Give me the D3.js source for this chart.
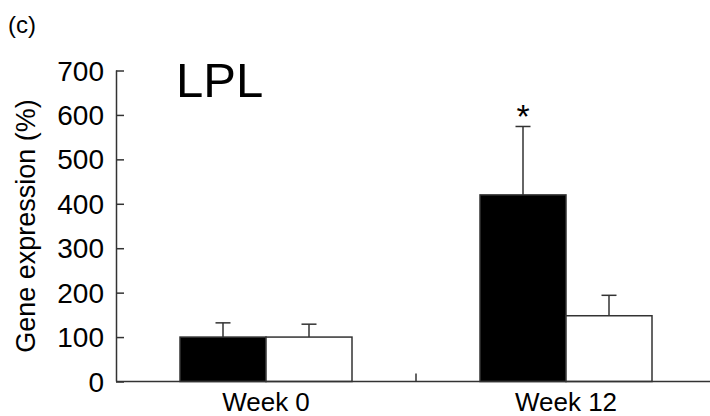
<!DOCTYPE html>
<html>
<head>
<meta charset="utf-8">
<script src="https://cdn.jsdelivr.net/npm/d3@7"></script>
<style>
  body { margin: 0; background: #fff; }
  text { font-family: "Liberation Sans", Arial, sans-serif; fill: #000; }
</style>
</head>
<body>
<svg id="chart" width="710" height="416"></svg>
<script>
// data
var weeks = ['Week 0', 'Week 12'];
var groups = ['treated', 'control'];
var means = [[100, 100], [420, 148]];
var upperErr = [[132, 129], [574, 194]];
var yTicks = [0, 100, 200, 300, 400, 500, 600, 700];
var sigMarks = [[false, false], [true, false]];

var svg = d3.select('#chart');
var ink = '#333';

var x = d3.scaleBand().domain(weeks).range([116, 716]).padding(0);
var xInner = d3.scaleBand().domain(groups).range([0, 172]);
var y = d3.scaleLinear().domain([0, 700]).range([381.5, 70.5]);

// y axis, ticks pointing inward
var yAxis = svg.append('g').attr('transform', 'translate(116,0)')
  .call(d3.axisRight(y).tickValues(yTicks).tickSize(8).tickFormat(''));
yAxis.select('.domain').attr('d', 'M0.5,' + y(700) + 'V' + y(0)).attr('stroke', ink).attr('stroke-width', 1.5);
yAxis.selectAll('.tick line').attr('stroke', ink).attr('stroke-width', 1.5);

svg.append('g').selectAll('text').data(yTicks).join('text')
  .attr('x', 104)
  .attr('y', function(d){ return y(d); })
  .attr('dy', '0.36em')
  .attr('text-anchor', 'end')
  .style('font-size', '28px')
  .text(function(d){ return d; });

// bars
weeks.forEach(function(w, i){
  var x0 = x(w) + x.bandwidth() / 2 - 86;
  groups.forEach(function(g, j){
    var bx = x0 + xInner(g);
    var bw = xInner.bandwidth();
    var cx = bx + bw / 2;
    // error bar (upper only)
    svg.append('line')
      .attr('x1', cx).attr('x2', cx)
      .attr('y1', y(means[i][j])).attr('y2', y(upperErr[i][j]))
      .attr('stroke', ink).attr('stroke-width', 1.5);
    svg.append('line')
      .attr('x1', cx - 7.5).attr('x2', cx + 7.5)
      .attr('y1', y(upperErr[i][j])).attr('y2', y(upperErr[i][j]))
      .attr('stroke', ink).attr('stroke-width', 1.5);
    svg.append('rect')
      .attr('x', bx).attr('width', bw)
      .attr('y', y(means[i][j])).attr('height', y(0) - y(means[i][j]))
      .attr('fill', j === 0 ? '#000' : '#fff')
      .attr('stroke', ink).attr('stroke-width', 1.5);
    if (sigMarks[i][j]) {
      svg.append('text')
        .attr('x', cx).attr('y', y(upperErr[i][j]) + 2)
        .attr('text-anchor', 'middle')
        .style('font-size', '34px')
        .text('*');
    }
  });
});

// x axis with middle tick
svg.append('line')
  .attr('x1', 116).attr('x2', 710).attr('y1', y(0)).attr('y2', y(0))
  .attr('stroke', ink).attr('stroke-width', 1.5);
svg.append('line')
  .attr('x1', x(weeks[1])).attr('x2', x(weeks[1]))
  .attr('y1', y(0) - 8).attr('y2', y(0))
  .attr('stroke', ink).attr('stroke-width', 1.5);

svg.append('g').selectAll('text').data(weeks).join('text')
  .attr('x', function(d){ return x(d) + x.bandwidth() / 2; })
  .attr('y', 411)
  .attr('text-anchor', 'middle')
  .style('font-size', '26px')
  .text(function(d){ return d; });

// titles
svg.append('text')
  .attr('transform', 'translate(35,' + ((y(0) + y(700)) / 2) + ') rotate(-90)')
  .attr('text-anchor', 'middle')
  .style('font-size', '27px')
  .text('Gene expression (%)');

svg.append('text').attr('x', 176).attr('y', 97).style('font-size', '49px').text('LPL');
svg.append('text').attr('x', 8).attr('y', 33).style('font-size', '24px').text('(c)');
</script>
</body>
</html>
